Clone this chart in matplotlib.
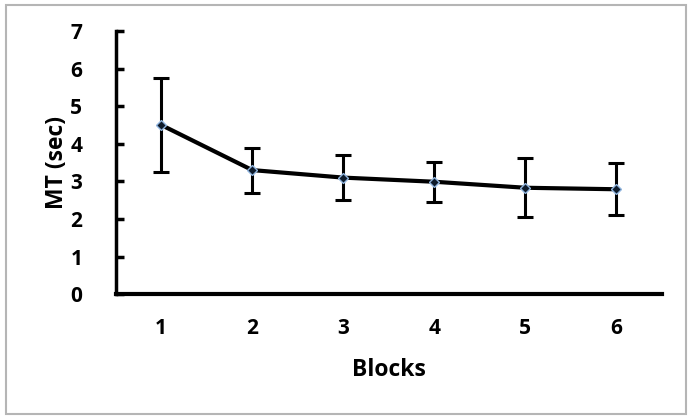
import matplotlib
matplotlib.use("Agg")
import matplotlib.pyplot as plt
from matplotlib.patches import Rectangle

blocks = ["1", "2", "3", "4", "5", "6"]
mt_mean = [4.50, 3.30, 3.10, 2.99, 2.83, 2.79]
mt_err = [1.25, 0.60, 0.60, 0.53, 0.78, 0.69]
yticks = [0, 1, 2, 3, 4, 5, 6, 7]

plt.rcParams['font.family'] = ['Open Sans', 'DejaVu Sans']
plt.rcParams['font.weight'] = 'bold'

fig = plt.figure(figsize=(6.93, 4.19), dpi=100)
ax = fig.add_axes([0.167, 0.298, 0.788, 0.628])

x = list(range(1, len(blocks) + 1))
ax.errorbar(x, mt_mean, yerr=mt_err, color='black', linewidth=3.0,
            elinewidth=2.2, capsize=6, capthick=2.2, zorder=2)
ax.plot(x, mt_mean, linestyle='none', marker='D', markersize=5,
        markerfacecolor='#0d1a2a', markeredgecolor='#8fb4de', markeredgewidth=1.0, zorder=3)

ax.set_xlim(0.5, 6.5)
ax.set_ylim(0, 7)
ax.set_yticks(yticks)
ax.set_xticks(x)
ax.set_xticklabels(blocks)

for s in ['top', 'right']:
    ax.spines[s].set_visible(False)
ax.spines['left'].set_linewidth(2.5)
ax.spines['bottom'].set_linewidth(3.0)
ax.tick_params(axis='y', direction='in', length=6, width=2.5, pad=24, labelsize=15)
ax.tick_params(axis='x', length=0, pad=17, labelsize=15)
for lab in ax.get_xticklabels() + ax.get_yticklabels():
    lab.set_fontweight('bold')

ax.set_xlabel('Blocks', fontsize=16.5, fontweight='bold', labelpad=14)
ax.set_ylabel('MT (sec)', fontsize=16.5, fontweight='bold', labelpad=1)

fig.patches.append(Rectangle((0.008, 0.013), 0.982, 0.975, transform=fig.transFigure,
                             fill=False, edgecolor='#b5b5b5', linewidth=1.5))

fig.savefig('out.png', dpi=100)
